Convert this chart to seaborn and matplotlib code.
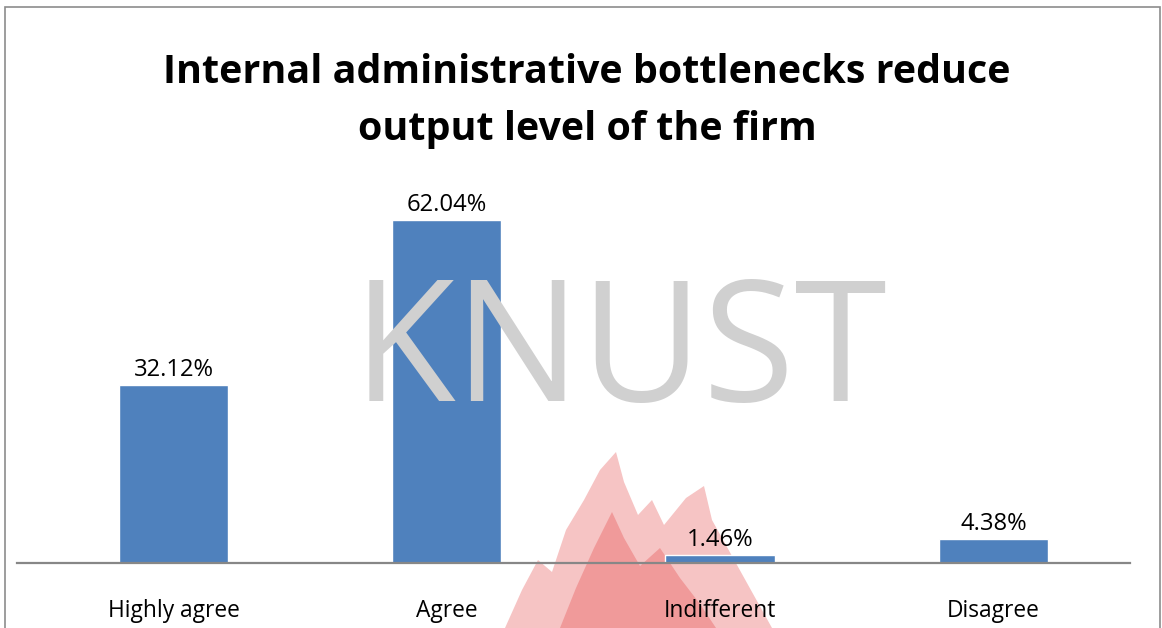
import matplotlib
matplotlib.use("Agg")
import matplotlib.pyplot as plt
import matplotlib.transforms as mtransforms
from matplotlib.patches import Polygon
import seaborn as sns
import pandas as pd

categories = ["Highly agree", "Agree", "Indifferent", "Disagree"]
percentages = [32.12, 62.04, 1.46, 4.38]
title_lines = ["Internal administrative bottlenecks reduce", "output level of the firm"]
watermark = "KNUST"

W, H = 1162, 628

sns.set_theme(style="white")
plt.rcParams["font.family"] = ["Open Sans", "DejaVu Sans"]

df = pd.DataFrame({"category": categories, "pct": percentages})

fig = plt.figure(figsize=(W / 100, H / 100), dpi=100)
renderer = fig.canvas.get_renderer()
# pixel coordinates measured from the top-left corner of the page
page_px = mtransforms.Affine2D().scale(1 / W, -1 / H).translate(0, 1) + fig.transFigure


def fit_width(txt, target_px):
    """Scale a text's font size so that its rendered width is target_px."""
    for _ in range(3):
        w = txt.get_window_extent(renderer).width
        txt.set_fontsize(txt.get_fontsize() * target_px / w)


# outer chart frame
frame = plt.Rectangle((5 / W, -0.05), 1155 / W, 1 - 7 / H + 0.05,
                      transform=fig.transFigure, fill=False,
                      edgecolor="#8c8c8c", linewidth=1.2)
fig.add_artist(frame)

# faded flame emblem of the page background
flame_outer = [(505, 628), (522, 590), (538, 560), (552, 572), (566, 530), (584, 500),
               (600, 470), (616, 452), (624, 482), (638, 515), (652, 500), (664, 525),
               (686, 498), (704, 486), (712, 520), (732, 556), (752, 592), (772, 628)]
flame_inner = [(560, 628), (576, 588), (594, 548), (612, 512), (624, 538), (640, 566),
               (660, 548), (680, 578), (700, 604), (716, 628)]
fig.add_artist(Polygon(flame_outer, closed=True, transform=page_px,
                       facecolor="#f6c4c4", edgecolor="none", zorder=-2))
fig.add_artist(Polygon(flame_inner, closed=True, transform=page_px,
                       facecolor="#f09a9a", edgecolor="none", zorder=-1))

# faint watermark lettering behind the plot
wm = fig.text(620 / W, 1 - 401 / H, watermark, ha="center", va="baseline",
              fontsize=128, color="#d0d0d0", zorder=0)
fit_width(wm, 535)

ax = fig.add_axes([17 / W, 1 - 563 / H, (1130 - 17) / W, (563 - 176) / H])
ax.patch.set_alpha(0)

sns.barplot(data=df, x="category", y="pct", color="#4F81BD", saturation=1,
            width=0.4, ax=ax, zorder=2)

ax.set_xlim(-0.573, 3.5)
ax.set_ylim(0, 70)
ax.set_xlabel("")
ax.set_ylabel("")
ax.set_yticks([])
for side in ["top", "right", "left"]:
    ax.spines[side].set_visible(False)
ax.spines["bottom"].set_color("#878787")
ax.spines["bottom"].set_linewidth(1.6)
ax.tick_params(axis="x", length=0, pad=0)
ax.set_xticklabels([])

# value labels above the bars
for i, v in enumerate(percentages):
    ax.annotate(f"{v:.2f}%", (i, v), xytext=(0, 9), textcoords="offset pixels",
                ha="center", va="baseline", fontsize=16, color="#000000")
value_texts = list(ax.texts)
fit_width(value_texts[1], 80)
for t in value_texts:
    t.set_fontsize(value_texts[1].get_fontsize())

# category names below the axis line
cat_texts = []
for i, c in enumerate(categories):
    cat_texts.append(ax.annotate(c, (i, 0), xytext=(0, -(617 - 563)),
                                 textcoords="offset pixels", ha="center",
                                 va="baseline", fontsize=16, color="#000000"))
fit_width(cat_texts[0], 132)
for t in cat_texts:
    t.set_fontsize(cat_texts[0].get_fontsize())

t1 = fig.text(587 / W, 1 - 83 / H, title_lines[0], ha="center", va="baseline",
              fontsize=28, fontweight="bold", color="#000000")
fit_width(t1, 845)
fig.text(587 / W, 1 - 140 / H, title_lines[1], ha="center", va="baseline",
         fontsize=t1.get_fontsize(), fontweight="bold", color="#000000")

fig.savefig("out.png", dpi=100)
